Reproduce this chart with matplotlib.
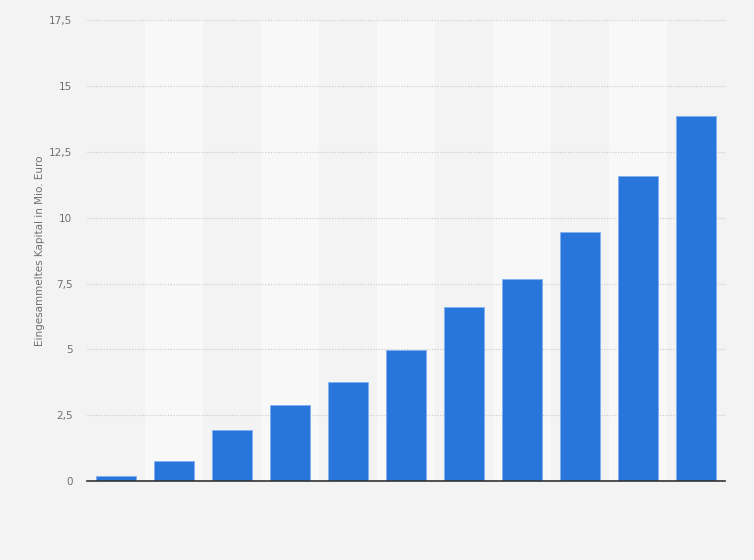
import matplotlib.pyplot as plt

# values (Mio. Euro), no category labels shown
positions = list(range(11))
kapital = [0.2, 0.76, 1.95, 2.88, 3.76, 4.96, 6.59, 7.68, 9.47, 11.57, 13.86]
yticks = [0, 2.5, 5, 7.5, 10, 12.5, 15, 17.5]
ytick_labels = ["0", "2,5", "5", "7,5", "10", "12,5", "15", "17,5"]

fig = plt.figure(figsize=(7.54, 5.6), dpi=100, facecolor="#f3f3f3")
ax = fig.add_axes([0.1154, 0.141, 0.8461, 0.823])
ax.set_facecolor("#f3f3f3")

# alternating column bands
for i in positions:
    if i % 2 == 1:
        ax.axvspan(i - 0.5, i + 0.5, color="#f8f8f8", zorder=0, lw=0)

ax.bar(positions, kapital, width=0.69, color="#2875db",
       edgecolor="#7fb0ee", linewidth=0.6, zorder=3)

ax.set_xlim(-0.5, 10.5)
ax.set_ylim(0, 17.5)
ax.set_yticks(yticks)
ax.set_yticklabels(ytick_labels)
ax.set_xticks([])
ax.tick_params(axis="y", length=0, pad=10.5, labelsize=7.5, labelcolor="#707070")
ax.yaxis.grid(True, linestyle=(0, (1, 1.5)), color="#c8c8c8", linewidth=0.8, zorder=1)
ax.set_axisbelow(True)

for s in ["top", "right", "left"]:
    ax.spines[s].set_visible(False)
ax.spines["bottom"].set_color("#333333")
ax.spines["bottom"].set_linewidth(1.2)
ax.spines["bottom"].set_zorder(4)

ax.set_ylabel("Eingesammeltes Kapital in Mio. Euro", fontsize=7.5, color="#707070")
ax.yaxis.set_label_coords(-0.066, 0.5)

fig.savefig("out.png", dpi=100, facecolor=fig.get_facecolor())
